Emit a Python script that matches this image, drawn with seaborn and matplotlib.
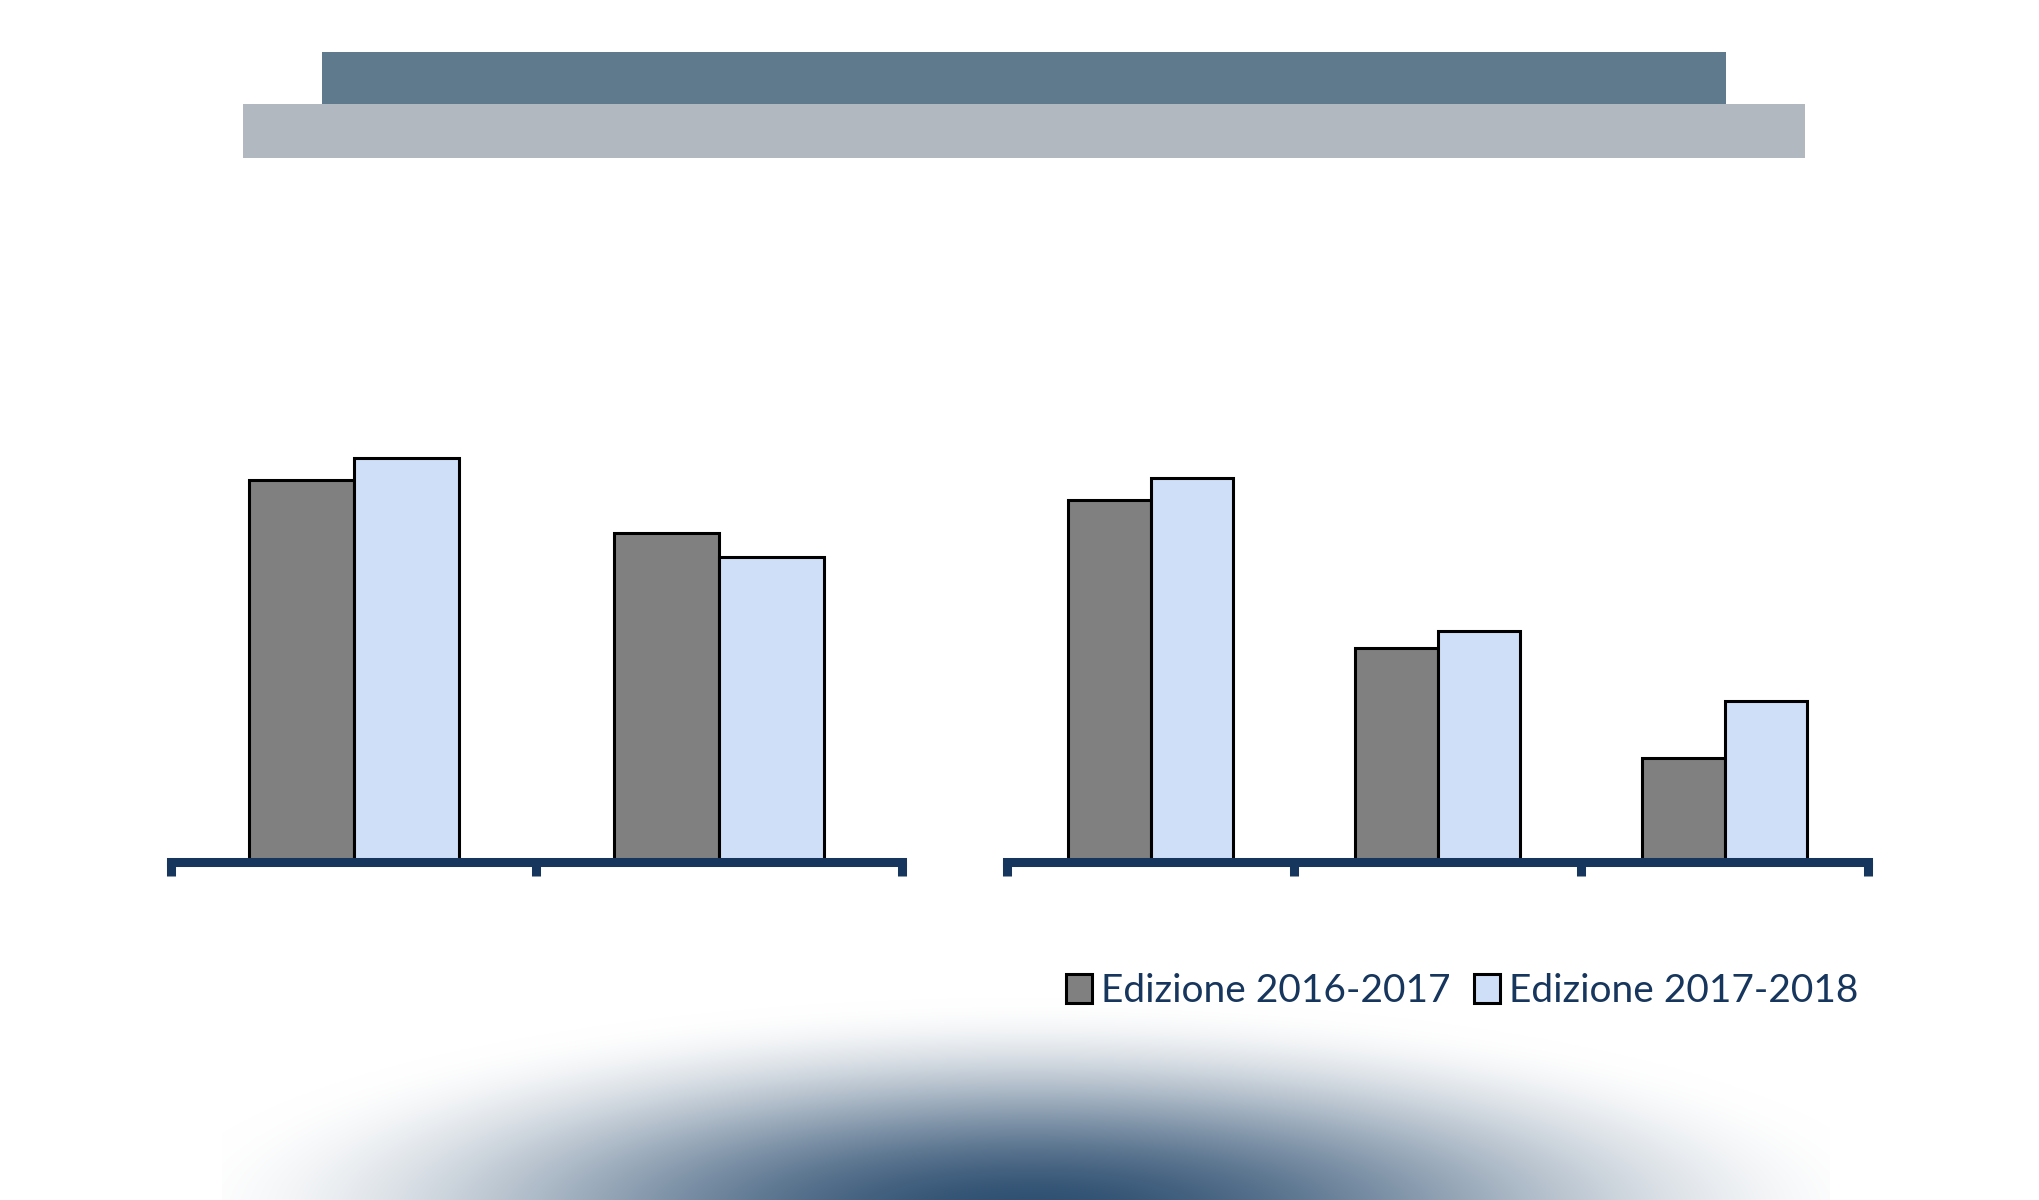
import numpy as np
import pandas as pd
import matplotlib
matplotlib.use("Agg")
import matplotlib.pyplot as plt
from matplotlib.patches import Rectangle
import seaborn as sns

# Data (bar heights, arbitrary units - no y axis shown)
editions = ["Edizione 2016-2017", "Edizione 2017-2018"]
left_cats = ["Gruppo A", "Gruppo B"]
left_2016 = [38.2, 32.9]
left_2017 = [40.4, 30.5]
right_cats = ["Gruppo C", "Gruppo D", "Gruppo E"]
right_2016 = [36.2, 21.4, 10.4]
right_2017 = [38.4, 23.1, 16.1]

bar_colors = ["#808080", "#CFDFF8"]
navy = "#17365D"

sns.set_style("white")
plt.rcParams["font.family"] = ["Lato", "DejaVu Sans"]

W, H = 2040, 1200
fig = plt.figure(figsize=(W / 100, H / 100), dpi=100)

# background: banners on top, radial shade at the bottom
bg = fig.add_axes([0, 0, 1, 1], zorder=-5)
bg.set_xlim(0, W)
bg.set_ylim(H, 0)
bg.axis("off")
bg.add_patch(Rectangle((322, 52), 1726 - 322, 52, color="#5E7A8C", lw=0))
bg.add_patch(Rectangle((243, 104), 1805 - 243, 54, color="#B1B8BF", lw=0))

xs = np.arange(222, 1830)
ys = np.arange(900, H)
gx, gy = np.meshgrid(xs, ys)
r = np.clip(np.sqrt(((gx - 1030) / 870.0) ** 2 + ((gy - 1212) / 215.0) ** 2), 0, 1)
a = 0.97 * (1 - (3 * r ** 2 - 2 * r ** 3))
shade = np.array([0x28, 0x4A, 0x6D]) / 255.0
img = np.ones(gx.shape + (3,)) * (1 - a[..., None]) + shade * a[..., None]
bg.imshow(img, extent=(222, 1830, H, 900), aspect="auto", interpolation="bilinear")


def bar_panel(rect, cats, v1, v2):
    ax = fig.add_axes(rect)
    df = pd.DataFrame({
        "cat": cats * 2,
        "val": v1 + v2,
        "edizione": [editions[0]] * len(cats) + [editions[1]] * len(cats),
    })
    sns.barplot(data=df, x="cat", y="val", hue="edizione", palette=bar_colors,
                saturation=1, width=0.575, edgecolor="black", linewidth=2.2,
                errorbar=None, ax=ax)
    ax.set_facecolor("none")
    ax.set_ylim(0, 50)
    ax.set_xlim(-0.5, len(cats) - 0.5)
    ax.set_xticks(np.arange(len(cats) + 1) - 0.5)
    ax.set_xticklabels([])
    ax.set_yticks([])
    ax.set_xlabel("")
    ax.set_ylabel("")
    for s in ["left", "right", "top"]:
        ax.spines[s].set_visible(False)
    ax.spines["bottom"].set_color(navy)
    ax.spines["bottom"].set_linewidth(6.5)
    ax.tick_params(axis="x", direction="out", length=10, width=6.5, color=navy,
                   bottom=True)
    return ax


y0 = (H - 861.5) / H
hgt = 500 / H
ax1 = bar_panel([171 / W, y0, (902 - 171) / W, hgt], left_cats, left_2016, left_2017)
ax2 = bar_panel([1007 / W, y0, (1868 - 1007) / W, hgt], right_cats, right_2016, right_2017)

handles, labels = ax2.get_legend_handles_labels()
ax1.get_legend().remove()
ax2.get_legend().remove()
fig.legend(handles, labels, loc="center left", bbox_to_anchor=(1047 / W, 1 - 991 / H),
           ncol=2, frameon=False, fontsize=28, labelcolor=navy,
           handlelength=0.65, handleheight=0.8, handletextpad=0.25,
           columnspacing=0.6, borderpad=0)

fig.savefig("out.png", dpi=100, facecolor="white")
